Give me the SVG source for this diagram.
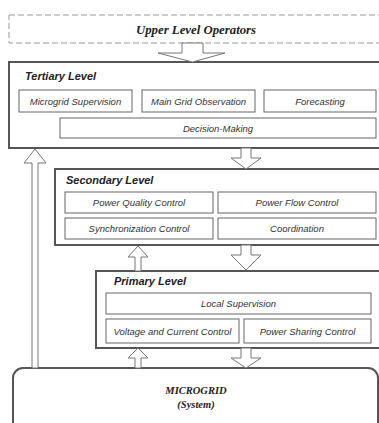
<svg xmlns="http://www.w3.org/2000/svg" width="379" height="423" viewBox="0 0 379 423">
<style>
.lvl{fill:#fff;stroke:#555;stroke-width:2}
.sub{fill:#fff;stroke:#666;stroke-width:1}
.arr{fill:#fff;stroke:#777;stroke-width:1;stroke-linejoin:miter}
.title{font-family:"Liberation Sans",Arial,sans-serif;font-weight:bold;font-style:italic;font-size:11px;fill:#222}
.lbl{font-family:"Liberation Sans",Arial,sans-serif;font-style:italic;font-size:9.5px;fill:#333;text-anchor:middle}
.ser{font-family:"Liberation Serif","Times New Roman",serif;font-weight:bold;font-style:italic;fill:#222;text-anchor:middle}
</style>
<rect width="379" height="423" fill="#fff"/>
<g id="upper">
<rect x="9" y="15" width="375" height="28" fill="#fff" stroke="#999" stroke-width="1" stroke-dasharray="6,3"/>
<text class="ser" x="196" y="34" font-size="12.8">Upper Level Operators</text>
</g>
<g id="tertiary">
<rect class="lvl" x="9" y="62" width="372" height="86"/>
<text class="title" x="25" y="80">Tertiary Level</text>
<rect class="sub" x="19" y="90" width="113" height="22"/>
<text class="lbl" x="75.5" y="104.5">Microgrid Supervision</text>
<rect class="sub" x="142" y="90" width="113" height="22"/>
<text class="lbl" x="198.5" y="104.5">Main Grid Observation</text>
<rect class="sub" x="264" y="90" width="112" height="22"/>
<text class="lbl" x="320" y="104.5">Forecasting</text>
<rect class="sub" x="60" y="118" width="316" height="20"/>
<text class="lbl" x="218" y="131.5">Decision-Making</text>
</g>
<g id="secondary">
<rect class="lvl" x="55" y="169" width="326" height="76"/>
<text class="title" x="66" y="184">Secondary Level</text>
<rect class="sub" x="65" y="192" width="148" height="21"/>
<text class="lbl" x="139" y="206">Power Quality Control</text>
<rect class="sub" x="218" y="192" width="158" height="21"/>
<text class="lbl" x="297" y="206">Power Flow Control</text>
<rect class="sub" x="65" y="218" width="148" height="21"/>
<text class="lbl" x="139" y="232">Synchronization Control</text>
<rect class="sub" x="218" y="218" width="158" height="21"/>
<text class="lbl" x="297" y="232">Coordination</text>
</g>
<g id="primary">
<rect class="lvl" x="96" y="271" width="285" height="77"/>
<text class="title" x="114" y="285">Primary Level</text>
<rect class="sub" x="106" y="293" width="265" height="21"/>
<text class="lbl" x="238.5" y="307">Local Supervision</text>
<rect class="sub" x="106" y="319" width="133" height="24"/>
<text class="lbl" x="172.5" y="334.5">Voltage and Current Control</text>
<rect class="sub" x="244" y="319" width="127" height="24"/>
<text class="lbl" x="307.5" y="334.5">Power Sharing Control</text>
</g>
<g id="microgrid">
<rect x="13" y="368" width="365" height="70" rx="10" ry="10" fill="#fff" stroke="#555" stroke-width="2"/>
<text class="ser" x="196" y="394" font-size="10.5">MICROGRID</text>
<text class="ser" x="196" y="408" font-size="10.5">(System)</text>
</g>
<g id="connectors">
<polygon class="arr" points="182,43 203,43 203,53 225,53 192.5,62 158,53 182,53"/>
<polygon class="arr" points="241,148 251,148 251,158 261,158 246,169 231,158 241,158"/>
<polygon class="arr" points="241,245 251,245 251,255 261,255 246,270 231,255 241,255"/>
<polygon class="arr" points="241,348 251,348 251,358 261,358 246,368 231,358 241,358"/>
<polygon class="arr" points="138,246 148,257 141,257 141,271 135,271 135,257 128,257"/>
<polygon class="arr" points="138,348 148,358 141,358 141,368 135,368 135,358 128,358"/>
<polygon class="arr" points="35,149 46,163 38,163 38,368 32,368 32,163 24,163"/>
</g>
</svg>
